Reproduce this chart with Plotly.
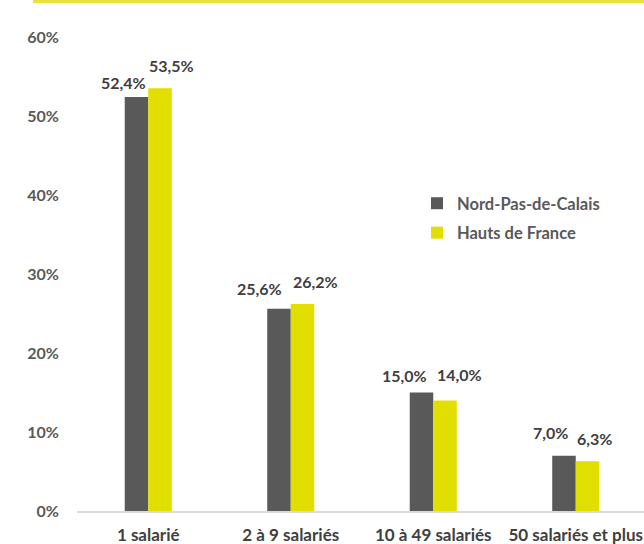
import plotly.graph_objects as go

categories = ["1 salarié", "2 à 9 salariés", "10 à 49 salariés", "50 salariés et plus"]
npdc = [52.4, 25.6, 15.0, 7.0]
hdf = [53.5, 26.2, 14.0, 6.3]
series_names = ["Nord-Pas-de-Calais", "Hauts de France"]
tick_vals = [0, 10, 20, 30, 40, 50, 60]
tick_text = ["0%", "10%", "20%", "30%", "40%", "50%", "60%"]

GREY = "#595959"
YELLOW = "#e1df00"
LABEL = "#404040"
FONT = "Lato"

# label placement (style only): horizontal shift in px and gap above bar in px
label_dx = [[-13, -19, -17, -13], [11, 13, 14, 7]]
label_gap = [[8, 14, 11, 17], [16, 16, 19, 16]]
bar_offset = [-0.0825, 0.0825]  # center of each bar within its category slot

def fmt(v):
    return f"{v:.1f}%".replace(".", ",")

fig = go.Figure()
series = [(series_names[0], npdc, GREY), (series_names[1], hdf, YELLOW)]
for name, vals, col in series:
    fig.add_trace(go.Bar(
        x=list(range(len(categories))), y=vals, name=name, legendgroup=name,
        marker=dict(color=col, line=dict(width=0)),
    ))

annotations = []
for s, (name, vals, col) in enumerate(series):
    for i, v in enumerate(vals):
        annotations.append(dict(
            x=i + bar_offset[s], y=v, xref="x", yref="y", text=fmt(v),
            showarrow=False, xanchor="center", yanchor="bottom",
            xshift=label_dx[s][i], yshift=label_gap[s][i] - 5,
            font=dict(family=FONT, size=16, color=LABEL, weight="bold"),
        ))

fig.update_layout(
    width=644, height=544,
    margin=dict(l=77, r=0, t=37, b=33, autoexpand=False),
    paper_bgcolor="white", plot_bgcolor="white",
    barmode="group", bargap=0.67, bargroupgap=0,
    font=dict(family=FONT, size=16, color=GREY, weight="bold"),
    showlegend=True,
    legend=dict(x=(417 - 77) / 567, y=(511 - 186) / 474, xanchor="left", yanchor="top",
                traceorder="grouped", tracegroupgap=5,
                font=dict(family=FONT, size=16.5, color=GREY, weight="bold"),
                bgcolor="rgba(0,0,0,0)", borderwidth=0),
    annotations=annotations,
    xaxis=dict(tickvals=list(range(len(categories))), ticktext=categories,
               range=[-0.5, 3.479], showline=True, linecolor="#d9d9d9", linewidth=1.5,
               showgrid=False, zeroline=False, ticks="outside", ticklen=8, tickcolor="white",
               automargin=False,
               tickfont=dict(family=FONT, size=17, color=LABEL, weight="bold")),
    yaxis=dict(range=[0, 60], tickvals=tick_vals, ticktext=tick_text,
               showgrid=False, zeroline=False, showline=False,
               ticks="outside", ticklen=14, tickcolor="white", automargin=False,
               tickfont=dict(family=FONT, size=16, color=GREY, weight="bold")),
    shapes=[dict(type="line", xref="paper", yref="paper",
                 x0=(33 - 77) / 567, x1=1.0, y0=(511 - 1.5) / 474, y1=(511 - 1.5) / 474,
                 line=dict(color="#e6e33a", width=3))],
)

fig.write_html("out.html", config={"displayModeBar": False},
               post_script="document.body.style.margin='0';document.body.style.overflow='hidden';")
